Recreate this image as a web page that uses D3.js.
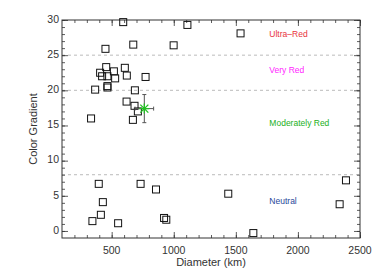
<!DOCTYPE html>
<html>
<head>
<meta charset="utf-8" />
<script src="https://d3js.org/d3.v7.min.js"></script>
<style>
  body { margin: 0; background: #fff; }
  text { font-family: "Liberation Sans", Arial, sans-serif; }
</style>
</head>
<body>
<svg id="chart" width="379" height="279"></svg>
<script>
// diameters (km) and color gradients
var diameters = [593, 1110, 674, 999, 450, 456, 407, 423, 466, 518, 528, 606, 622, 773,
                 367, 466, 466, 687, 620, 684, 711, 334, 671, 1538,
                 396, 733, 857, 429, 413, 345, 552, 922, 940, 1439, 2387, 2336, 1641];
var gradients = [29.7, 29.3, 26.5, 26.4, 25.9, 23.3, 22.5, 22.0, 22.0, 22.7, 21.7, 23.2, 22.1, 21.9,
                 20.1, 20.6, 20.4, 20.0, 18.4, 17.8, 17.0, 16.0, 15.8, 28.1,
                 6.7, 6.7, 5.9, 4.1, 2.3, 1.4, 1.1, 1.85, 1.6, 5.3, 7.2, 3.8, -0.3];

// mean point with error bars
var meanPoint = [{ d: 763, g: 17.4, dErr: 75, gErr: 2.0 }];

var classLimits = [25, 20, 8];
var classNames = ["Ultra\u2013Red", "Very Red", "Moderately Red", "Neutral"];
var classValues = [27.9, 22.8, 15.2, 4.2];
var classColors = ["#e8323c", "#ff1fff", "#22b022", "#27479a"];

var xTicks = [500, 1000, 1500, 2000, 2500];
var yTicks = [0, 5, 10, 15, 20, 25, 30];

var svg = d3.select("#chart");
var pLeft = 62, pRight = 360, pTop = 20, pBottom = 238;

var x = d3.scaleLinear().domain([100, 2500]).range([pLeft, pRight]);
var y = d3.scaleLinear().domain([-1, 30]).range([pBottom, pTop]);

// dashed class borders
svg.selectAll("line.lim").data(classLimits).enter().append("line")
    .attr("x1", pLeft).attr("x2", pRight)
    .attr("y1", function(d) { return y(d); })
    .attr("y2", function(d) { return y(d); })
    .attr("stroke", "#aaa").attr("stroke-width", 0.8)
    .attr("stroke-dasharray", "3,3");

// class labels
svg.selectAll("text.cls").data(classNames).enter().append("text")
    .attr("x", x(1770))
    .attr("y", function(d, i) { return y(classValues[i]); })
    .attr("font-size", 8.5)
    .attr("fill", function(d, i) { return classColors[i]; })
    .attr("dominant-baseline", "middle")
    .text(function(d) { return d; });

// axes - ticks point inward on all four sides
function tickAxis(axisFn, scale, vals, len) {
    return axisFn(scale).tickValues(vals).tickSize(len).tickFormat("");
}
var xMinor = d3.range(200, 2501, 100);
var yMinor = d3.range(0, 31, 1);

var gb = svg.append("g").attr("transform", "translate(0," + pBottom + ")");
gb.call(tickAxis(d3.axisTop, x, xTicks, 6));
gb.append("g").call(tickAxis(d3.axisTop, x, xMinor, 3));
var gt = svg.append("g").attr("transform", "translate(0," + pTop + ")");
gt.call(tickAxis(d3.axisBottom, x, xTicks, 6));
gt.append("g").call(tickAxis(d3.axisBottom, x, xMinor, 3));
var gl = svg.append("g").attr("transform", "translate(" + pLeft + ",0)");
gl.call(tickAxis(d3.axisRight, y, yTicks, 6));
gl.append("g").call(tickAxis(d3.axisRight, y, yMinor, 3));
var gr = svg.append("g").attr("transform", "translate(" + pRight + ",0)");
gr.call(tickAxis(d3.axisLeft, y, yTicks, 6));
gr.append("g").call(tickAxis(d3.axisLeft, y, yMinor, 3));

svg.selectAll(".domain").remove();
svg.selectAll(".tick line").attr("stroke", "#333").attr("stroke-width", 0.8);

svg.append("rect")
    .attr("x", pLeft).attr("y", pTop)
    .attr("width", pRight - pLeft).attr("height", pBottom - pTop)
    .attr("fill", "none").attr("stroke", "#333").attr("stroke-width", 1);

// tick labels
svg.selectAll("text.xl").data(xTicks).enter().append("text")
    .attr("x", function(d) { return x(d); }).attr("y", 251)
    .attr("text-anchor", "middle").attr("dominant-baseline", "middle")
    .attr("font-size", 10.5).attr("fill", "#333")
    .text(function(d) { return d; });
svg.selectAll("text.yl").data(yTicks).enter().append("text")
    .attr("x", pLeft - 3).attr("y", function(d) { return y(d); })
    .attr("text-anchor", "end").attr("dominant-baseline", "middle")
    .attr("font-size", 10.5).attr("fill", "#333")
    .text(function(d) { return d; });

svg.append("text").attr("x", 211).attr("y", 263)
    .attr("text-anchor", "middle").attr("dominant-baseline", "middle")
    .attr("font-size", 11).attr("fill", "#333")
    .text("Diameter (km)");
svg.append("text").attr("transform", "translate(34," + ((pTop + pBottom) / 2) + ") rotate(-90)")
    .attr("text-anchor", "middle").attr("dominant-baseline", "middle")
    .attr("font-size", 11).attr("fill", "#333")
    .text("Color Gradient");

// squares
var pts = d3.range(diameters.length);
svg.selectAll("rect.pt").data(pts).enter().append("rect")
    .attr("x", function(i) { return x(diameters[i]) - 3.5; })
    .attr("y", function(i) { return y(gradients[i]) - 3.5; })
    .attr("width", 7).attr("height", 7)
    .attr("fill", "none").attr("stroke", "#111").attr("stroke-width", 1);

// mean with error bars
var m = svg.selectAll("g.mean").data(meanPoint).enter().append("g");
m.append("line")
    .attr("x1", function(d) { return x(d.d); }).attr("x2", function(d) { return x(d.d); })
    .attr("y1", function(d) { return y(d.g - d.gErr); }).attr("y2", function(d) { return y(d.g + d.gErr); })
    .attr("stroke", "#555");
m.append("line")
    .attr("x1", function(d) { return x(d.d - d.dErr); }).attr("x2", function(d) { return x(d.d + d.dErr); })
    .attr("y1", function(d) { return y(d.g); }).attr("y2", function(d) { return y(d.g); })
    .attr("stroke", "#555");
[-1, 1].forEach(function(s) {
    m.append("line")
        .attr("x1", function(d) { return x(d.d) - 2; }).attr("x2", function(d) { return x(d.d) + 2; })
        .attr("y1", function(d) { return y(d.g + s * d.gErr); }).attr("y2", function(d) { return y(d.g + s * d.gErr); })
        .attr("stroke", "#555");
    m.append("line")
        .attr("x1", function(d) { return x(d.d + s * d.dErr); }).attr("x2", function(d) { return x(d.d + s * d.dErr); })
        .attr("y1", function(d) { return y(d.g) - 2; }).attr("y2", function(d) { return y(d.g) + 2; })
        .attr("stroke", "#555");
});
m.append("path")
    .attr("transform", function(d) { return "translate(" + x(d.d) + "," + y(d.g) + ")"; })
    .attr("d", "M-5,0H5M0,-5V5M-4,-4L4,4M-4,4L4,-4")
    .attr("stroke", "#22c022").attr("stroke-width", 1.3).attr("fill", "none");
</script>
</body>
</html>
